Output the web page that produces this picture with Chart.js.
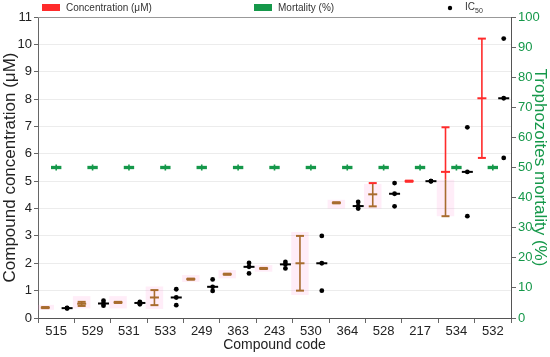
<!DOCTYPE html>
<html lang="en">
<head>
<meta charset="UTF-8">
<title>Compound concentration and mortality</title>
<script src="https://cdn.jsdelivr.net/npm/chart.js@4.4.0/dist/chart.umd.min.js"></script>
<style>
  body { margin: 0; background: #fff; }
  #wrap { width: 550px; height: 357px; }
</style>
</head>
<body>
<div id="wrap"><canvas id="chart"></canvas></div>
<script>
// compound codes on the x axis
const codes = ['515', '529', '531', '533', '249', '363', '243', '530', '364', '528', '217', '534', '532'];

// concentration (uM): mean with low / high whiskers
const concMean = [0.38, 0.52, 0.57, 0.75, 1.42, 1.60, 1.81, 2.00, 4.21, 4.52, 5.00, 5.34, 8.03];
const concLow  = [0.36, 0.44, 0.55, 0.47, 1.40, 1.58, 1.79, 1.00, 4.19, 4.08, 4.98, 3.72, 5.85];
const concHigh = [0.40, 0.59, 0.59, 1.02, 1.44, 1.62, 1.83, 3.00, 4.23, 4.93, 5.02, 6.97, 10.21];

// pale pink band behind the concentration whiskers
const shadeLow  = [0.30, 0.35, 0.35, 0.33, 1.32, 1.45, 1.69, 0.84, 4.00, 4.00, null, 3.72, null];
const shadeHigh = [0.48, 0.80, 0.80, 1.15, 1.57, 1.75, 1.93, 3.14, 4.32, 4.90, null, 5.05, null];

// trophozoites mortality (%)
const mortality = [50, 50, 50, 50, 50, 50, 50, 50, 50, 50, 50, 50, 50];
const mortalityErr = [1, 1, 1, 1, 1, 1, 1, 1, 1, 1, 1, 1, 1];

// IC50 replicates and mean
const ic50High = [0.37, 0.63, 0.59, 1.05, 1.41, 2.01, 2.05, 3.00, 4.24, 4.93, 5.00, 6.97, 10.21];
const ic50Mid  = [0.36, 0.53, 0.55, 0.75, 1.14, 1.87, 1.96, 2.00, 4.09, 4.54, 5.00, 5.34, 8.03];
const ic50Low  = [0.35, 0.45, 0.50, 0.47, 0.99, 1.63, 1.81, 1.00, 4.00, 4.08, 5.00, 3.72, 5.85];
const ic50Mean = [0.36, 0.53, 0.55, 0.75, 1.14, 1.87, 1.96, 2.00, 4.09, 4.54, 5.00, 5.34, 8.03];

const RED = '#ff2b2b';
const BROWN = '#a86c2e';
const GREEN = '#15984a';
const TEXT = '#222';

Chart.defaults.font.family = '"Liberation Sans", Arial, sans-serif';

// whiskers, IC50 dots and the small mortality ticks, placed from the bar layout
const marks = {
  id: 'marks',
  afterDatasetsDraw(chart) {
    const ctx = chart.ctx;
    const y = chart.scales.y, y1 = chart.scales.y1;
    const cMeta = chart.getDatasetMeta(0);
    const mMeta = chart.getDatasetMeta(1);
    const iMeta = chart.getDatasetMeta(2);
    ctx.save();
    ctx.lineCap = 'butt';
    codes.forEach((c, i) => {
      // concentration whisker, brown inside the pink band and red above it
      const x = cMeta.data[i].x;
      const split = shadeHigh[i] == null ? -Infinity : shadeHigh[i];
      const col = v => (v <= split ? BROWN : RED);
      ctx.lineWidth = 1.6;
      if (concLow[i] < split) {
        ctx.strokeStyle = BROWN;
        ctx.beginPath();
        ctx.moveTo(x, y.getPixelForValue(concLow[i]));
        ctx.lineTo(x, y.getPixelForValue(Math.min(concHigh[i], split)));
        ctx.stroke();
      }
      if (concHigh[i] > split) {
        ctx.strokeStyle = RED;
        ctx.beginPath();
        ctx.moveTo(x, y.getPixelForValue(Math.max(concLow[i], split)));
        ctx.lineTo(x, y.getPixelForValue(concHigh[i]));
        ctx.stroke();
      }
      ctx.lineWidth = 2;
      [[concLow[i], 4], [concHigh[i], 4], [concMean[i], 4.5]].forEach(([v, hw]) => {
        const py = y.getPixelForValue(v);
        ctx.strokeStyle = col(v);
        ctx.beginPath();
        ctx.moveTo(x - hw, py);
        ctx.lineTo(x + hw, py);
        ctx.stroke();
      });

      // mortality small vertical error tick
      const mx = mMeta.data[i].x;
      ctx.strokeStyle = GREEN;
      ctx.lineWidth = 1.6;
      ctx.beginPath();
      ctx.moveTo(mx, y1.getPixelForValue(mortality[i] - mortalityErr[i]));
      ctx.lineTo(mx, y1.getPixelForValue(mortality[i] + mortalityErr[i]));
      ctx.stroke();

      // IC50 dots and mean line
      const ix = iMeta.data[i].x;
      ctx.fillStyle = '#000';
      [ic50High[i], ic50Mid[i], ic50Low[i]].forEach(v => {
        ctx.beginPath();
        ctx.arc(ix, y.getPixelForValue(v), 2.4, 0, Math.PI * 2);
        ctx.fill();
      });
      ctx.strokeStyle = '#000';
      ctx.lineWidth = 2;
      const my = y.getPixelForValue(ic50Mean[i]);
      ctx.beginPath();
      ctx.moveTo(ix - 5.5, my);
      ctx.lineTo(ix + 5.5, my);
      ctx.stroke();
    });
    ctx.restore();
  },
  afterDraw(chart) {
    const ctx = chart.ctx;
    const a = chart.chartArea;
    ctx.save();
    // top frame line
    ctx.strokeStyle = '#999';
    ctx.lineWidth = 1;
    ctx.beginPath();
    ctx.moveTo(a.left, a.top + 0.5);
    ctx.lineTo(a.right, a.top + 0.5);
    ctx.stroke();

    // legend row
    ctx.font = '10px "Liberation Sans", Arial, sans-serif';
    ctx.textBaseline = 'middle';
    ctx.fillStyle = RED;
    ctx.fillRect(42, 4, 18, 7);
    ctx.fillStyle = GREEN;
    ctx.fillRect(254, 4, 18, 7);
    ctx.fillStyle = '#000';
    ctx.beginPath();
    ctx.arc(450, 8, 2.2, 0, Math.PI * 2);
    ctx.fill();
    ctx.fillStyle = '#333';
    ctx.fillText('Concentration (μM)', 66, 8);
    ctx.fillText('Mortality (%)', 278, 8);
    ctx.fillText('IC', 465, 7);
    const w = ctx.measureText('IC').width;
    ctx.font = '7px "Liberation Sans", Arial, sans-serif';
    ctx.fillText('50', 465 + w, 11);
    ctx.restore();
  }
};

const ctx = document.getElementById('chart').getContext('2d');
new Chart(ctx, {
  type: 'bar',
  data: {
    labels: codes,
    datasets: [
      {
        label: 'Concentration (μM)',
        data: codes.map((c, i) => (shadeLow[i] == null ? null : [shadeLow[i], shadeHigh[i]])),
        backgroundColor: 'rgba(255, 140, 210, 0.16)',
        barPercentage: 1.6,
        yAxisID: 'y'
      },
      {
        label: 'Mortality (%)',
        data: mortality.map(v => [v - 0.55, v + 0.55]),
        backgroundColor: GREEN,
        barPercentage: 0.95,
        yAxisID: 'y1'
      },
      {
        label: 'IC50',
        data: codes.map((c, i) => [ic50Low[i], ic50High[i]]),
        backgroundColor: 'rgba(0,0,0,0)',
        yAxisID: 'y'
      }
    ]
  },
  options: {
    responsive: true,
    maintainAspectRatio: false,
    animation: false,
    categoryPercentage: 0.9,
    layout: { padding: { top: 17 } },
    plugins: {
      legend: { display: false },
      tooltip: { enabled: false }
    },
    scales: {
      x: {
        grid: { offset: true, drawOnChartArea: false, tickLength: 5, tickColor: '#666' },
        border: { color: '#555' },
        ticks: { color: TEXT, font: { size: 13 }, padding: 1, maxRotation: 0 },
        title: { display: true, text: 'Compound code', color: TEXT, font: { size: 14 }, padding: { top: 1, bottom: 3 } },
        afterFit: s => { s.height = 39; }
      },
      y: {
        position: 'left',
        min: 0,
        max: 11,
        ticks: {
          stepSize: 0.5,
          color: TEXT,
          font: { size: 13 },
          padding: 2,
          callback: v => (Number.isInteger(v) ? v : '')
        },
        grid: { color: '#ececec', tickLength: 4, tickColor: '#666' },
        border: { color: '#666' },
        title: { display: true, text: 'Compound concentration (μM)', color: TEXT, font: { size: 17 }, padding: { top: 0, bottom: 0 } },
        afterFit: s => { s.width = 38; }
      },
      y1: {
        position: 'right',
        min: 0,
        max: 100,
        ticks: {
          stepSize: 5,
          color: GREEN,
          font: { size: 13 },
          padding: 2,
          callback: v => (v % 10 === 0 ? v : '')
        },
        grid: { drawOnChartArea: false, tickLength: 5, tickColor: '#666' },
        border: { color: '#555' },
        title: { display: true, text: 'Trophozoites mortality (%)', color: GREEN, font: { size: 17 }, padding: { top: 0, bottom: 0 } },
        afterFit: s => { s.width = 39; }
      }
    }
  },
  plugins: [marks]
});
</script>
</body>
</html>
